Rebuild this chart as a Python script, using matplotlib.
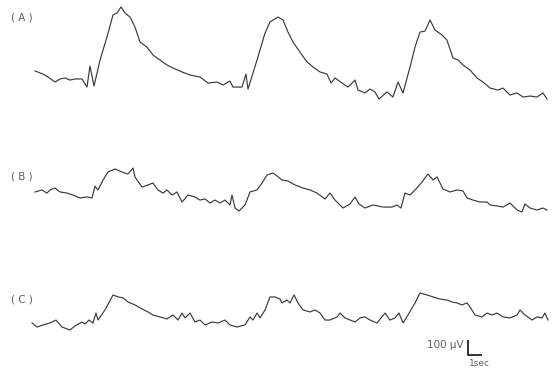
import numpy as np
import matplotlib.pyplot as plt

# time (sec) / potential (uV)
t_a = [0.25, 0.92, 1.33, 1.92, 2.33, 2.75, 3.17, 3.58, 4.17, 4.58, 4.83, 5.17, 5.67, 6.25,
       6.75, 7.08, 7.42, 7.75, 8.17, 8.58, 9.0, 9.58, 10.08, 10.67, 11.25, 11.75, 12.5,
       13.17, 14.0, 14.67, 15.42, 15.92, 16.5, 16.75, 17.5, 17.83, 18.0, 18.75, 19.42,
       19.83, 20.5, 20.92, 21.33, 21.75, 22.33, 22.92, 23.42, 24.0, 24.58, 24.92, 25.25,
       25.83, 26.33, 26.92, 27.17, 27.75, 28.17, 28.58, 28.92, 29.58, 30.08, 30.5, 30.92,
       31.5, 31.92, 32.33, 32.75, 33.17, 33.58, 34.17, 34.58, 35.08, 35.5, 35.92, 36.5,
       37.08, 37.58, 38.17, 38.83, 39.25, 39.83, 40.42, 40.92, 41.5, 42.08, 42.58, 42.92]
v_a = [136, 114, 93, 57, 79, 86, 71, 79, 79, 21, 171, 29, 214, 379,
       536, 550, 593, 550, 521, 450, 343, 307, 250, 214, 179, 157, 129,
       107, 93, 50, 57, 36, 64, 21, 21, 114, 7, 214, 407,
       486, 521, 500, 414, 343, 271, 200, 164, 129, 114, 50, 86,
       50, 21, 71, 0, -21, 7, -14, -64, -14, -50, 57, -21,
       164, 307, 414, 421, 500, 429, 393, 357, 229, 214, 179, 143,
       86, 57, 14, 0, 14, -36, -21, -50, -43, -50, -21, -64]

t_b = [0.25, 0.83, 1.25, 1.5, 1.92, 2.33, 2.92, 3.42, 4.0, 4.58, 5.0, 5.25, 5.5, 5.92,
       6.33, 6.92, 7.5, 8.0, 8.42, 8.58, 9.17, 9.67, 10.08, 10.5, 10.92, 11.25, 11.67,
       12.08, 12.5, 13.0, 13.58, 14.0, 14.42, 14.83, 15.25, 15.67, 16.08, 16.5, 16.67,
       16.92, 17.25, 17.75, 18.17, 18.75, 19.17, 19.58, 20.08, 20.42, 20.83, 21.33, 21.92,
       22.58, 23.17, 23.75, 24.42, 24.83, 25.25, 25.5, 25.92, 26.5, 26.92, 27.25, 27.75,
       28.42, 29.25, 30.0, 30.42, 30.75, 31.08, 31.5, 32.08, 32.5, 33.0, 33.42, 33.75,
       34.25, 34.83, 35.42, 35.92, 36.25, 36.75, 37.33, 37.92, 38.17, 38.75, 39.25, 39.83,
       40.42, 40.83, 41.08, 41.5, 42.08, 42.58, 42.92]
v_b = [129, 143, 121, 143, 157, 129, 121, 107, 86, 93, 86, 171, 143, 214,
       271, 293, 271, 257, 300, 236, 164, 179, 193, 143, 121, 143, 107,
       129, 57, 107, 93, 71, 79, 50, 71, 50, 71, 36, 107,
       14, -7, 36, 129, 143, 193, 250, 264, 243, 214, 207, 179,
       157, 143, 121, 79, 121, 71, 50, 14, 43, 93, 43, 14,
       36, 21, 21, 36, 14, 121, 107, 157, 200, 257, 214, 236,
       150, 129, 143, 136, 86, 71, 57, 57, 36, 29, 21, 50,
       0, -14, 43, 14, 0, 14, 0]

t_c = [0.0, 0.42, 0.92, 1.5, 2.0, 2.5, 3.17, 3.58, 4.17, 4.42, 4.75, 5.08, 5.33, 5.5,
       6.08, 6.75, 7.17, 7.58, 8.0, 8.58, 9.17, 9.67, 10.08, 10.67, 11.25, 11.75, 12.17,
       12.5, 12.75, 13.17, 13.58, 14.0, 14.42, 15.0, 15.5, 16.08, 16.5, 17.08, 17.75,
       18.17, 18.42, 18.75, 19.0, 19.42, 19.83, 20.25, 20.67, 20.83, 21.25, 21.5, 21.83,
       22.17, 22.58, 23.17, 23.58, 24.0, 24.42, 24.83, 25.42, 25.67, 26.08, 26.5, 26.92,
       27.33, 27.75, 28.17, 28.75, 29.42, 29.83, 30.25, 30.58, 30.92, 31.33, 31.92, 32.33,
       32.92, 33.42, 34.0, 34.58, 35.0, 35.42, 35.83, 36.25, 36.5, 36.92, 37.5, 37.92,
       38.33, 38.75, 39.25, 39.83, 40.42, 40.67, 41.08, 41.67, 42.08, 42.5, 42.75, 43.0]
v_c = [50, 21, 36, 50, 71, 21, 0, 29, 57, 43, 71, 50, 121, 71,
       143, 250, 236, 229, 200, 179, 150, 129, 107, 93, 79, 107, 71,
       121, 86, 121, 57, 71, 36, 57, 50, 71, 36, 21, 36,
       93, 71, 121, 86, 143, 236, 236, 221, 193, 214, 193, 250,
       193, 143, 129, 143, 121, 71, 71, 93, 121, 86, 71, 57,
       86, 93, 71, 50, 121, 71, 86, 121, 50, 107, 193, 264,
       250, 236, 221, 214, 200, 193, 179, 193, 164, 107, 93, 121,
       107, 121, 93, 86, 107, 143, 107, 71, 93, 86, 121, 71]

labels = ["( A )", "( B )", "( C )"]
traces = [(t_a, v_a), (t_b, v_b), (t_c, v_c)]
offsets = [2007, 1150, 293]          # vertical stacking, uV
label_y = [2650 - 17 * 100 / 14, 2650 - 176 * 100 / 14, 2650 - 300 * 100 / 14]

fig = plt.figure(figsize=(5.58, 3.71), dpi=100)
ax = fig.add_axes([0, 0, 1, 1])
ax.set_xlim(-32 / 12, 526 / 12)
ax.set_ylim(0, 2650)
ax.axis("off")

line_color = "#3a3a3a"
text_color = "#5e5e5e"

for (t, v), off, lab, ly in zip(traces, offsets, labels, label_y):
    ax.plot(t, np.array(v) + off, color=line_color, lw=0.85)
    ax.text(-0.85, ly, lab, color=text_color, fontsize=7.5, ha="center", va="center")

# scale bar: 1 sec x 100 uV
x0, y0 = 36.33, 114
ax.plot([x0, x0, x0 + 1.05], [y0 + 100, y0, y0], color="#333333", lw=1.4)
ax.text(x0 - 0.35, y0 + 72, "100 \u03bcV", color=text_color, fontsize=7.5, ha="right", va="center")
ax.text(x0 + 0.95, y0 - 64, "1sec", color=text_color, fontsize=6.5, ha="center", va="center")

fig.savefig("out.png", dpi=100, facecolor="white")
